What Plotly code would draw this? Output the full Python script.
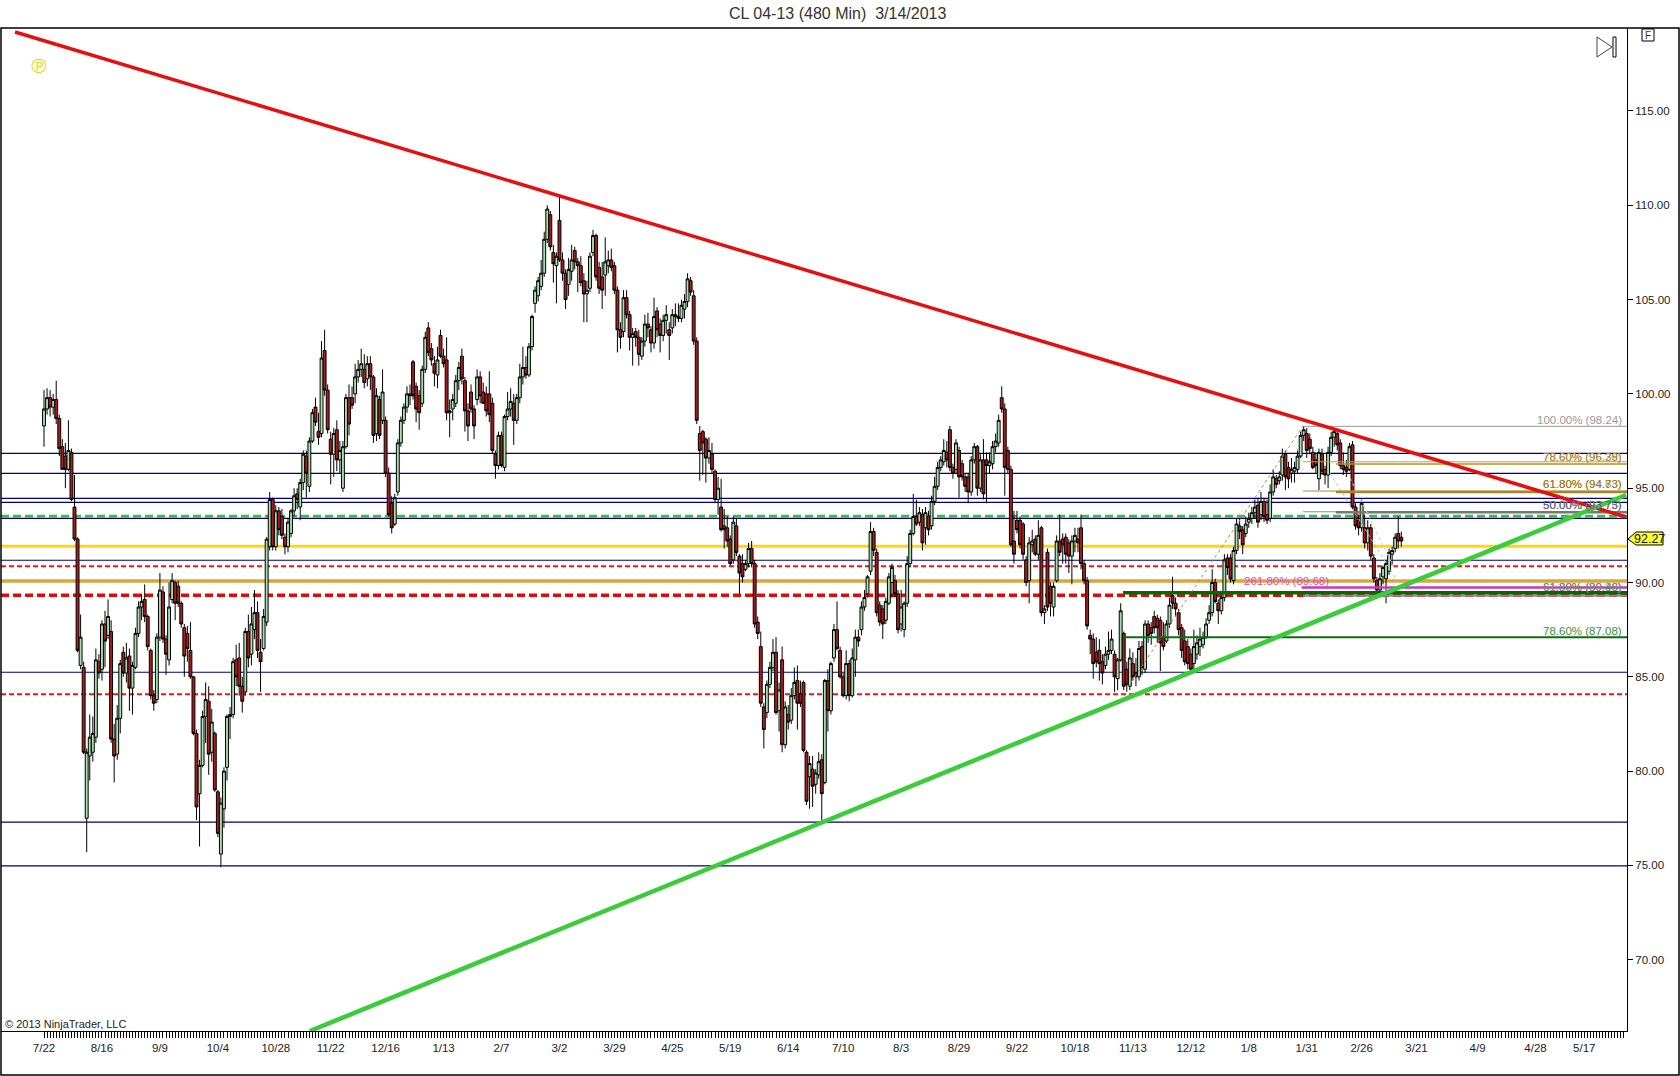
import numpy as np
import plotly.graph_objects as go

# ---------- candle values, bar by bar ----------
open_a = [98.3,99.2,99.8,99.3,99.7,98.7,97.2,96.7,96.0,96.9,94.0,92.3,85.6,85.5,77.5,80.8,81.0,81.8,85.8,85.4,87.8,87.2,87.4,81.7,80.9,82.8,86.3,85.2,86.1,84.4,85.5,87.3,88.7,89.1,88.2,86.4,84.0,83.8,87.1,89.5,87.0,85.9,89.1,90.0,89.8,88.9,87.6,87.3,86.4,85.0]
high_a = [100.2,100.3,100.2,100.0,100.7,98.9,97.6,97.4,98.6,97.1,95.7,92.4,88.3,85.8,81.2,83.0,82.9,86.5,86.2,88.0,88.5,89.1,88.0,82.5,83.5,85.9,86.6,86.8,86.5,85.8,87.6,89.0,89.4,89.9,88.3,86.5,84.3,87.3,90.5,89.8,87.2,90.0,90.5,90.1,90.1,89.0,87.8,87.7,87.9,85.0]
low_a = [97.2,98.9,98.8,98.9,98.4,96.7,96.0,95.0,95.9,94.3,92.2,86.3,85.4,80.9,75.7,79.5,80.5,81.5,84.9,84.8,85.5,87.0,81.5,79.4,80.6,82.0,85.0,84.7,83.2,83.0,85.4,87.1,88.0,87.9,86.4,83.8,83.2,83.6,86.9,86.8,85.1,85.6,88.9,88.0,88.7,87.6,85.0,85.8,84.9,81.9]
close_a = [99.2,99.8,99.3,99.7,98.7,97.1,96.0,96.0,97.0,94.4,92.3,86.4,87.1,81.0,81.0,81.8,82.0,85.9,85.2,87.8,86.9,88.2,81.7,80.8,82.8,85.7,85.2,86.0,84.4,85.6,87.3,88.7,89.0,88.2,86.6,84.0,83.6,87.1,89.6,87.0,86.2,88.7,90.1,88.9,88.9,87.8,86.1,86.5,85.0,82.0]

open_b = [82.0,78.8,80.3,82.9,83.7,81.0,82.0,78.9,75.6,78.0,80.2,82.9,83.0,85.9,86.0,84.5,84.2,87.4,86.2,87.5,88.4,86.3,86.5,87.9,91.9,94.4,91.9,93.8,93.5,92.4,91.9,92.6,93.8,94.7,94.0,95.3,96.7,95.1,97.5,99.3,98.0,97.9,102.3,100.2,97.6,96.8,98.1,96.5,95.0,97.2]
high_b = [82.2,80.6,83.2,84.7,84.5,83.3,82.1,79.0,78.6,80.2,83.0,83.4,86.0,86.7,86.8,85.0,87.6,88.3,88.7,89.6,89.0,87.0,88.6,92.4,94.8,94.5,94.1,94.0,93.9,92.6,93.4,93.9,95.0,95.0,95.5,97.0,97.0,97.7,99.2,99.8,99.0,102.8,103.4,100.5,98.0,98.2,98.6,97.5,97.5,100.0]
low_b = [77.4,76.0,80.2,81.5,79.8,80.5,78.9,76.5,74.9,77.0,79.5,81.7,82.8,84.5,84.0,83.1,84.0,85.5,85.6,87.0,86.0,84.2,86.4,87.7,91.7,91.7,91.7,92.5,92.3,91.5,91.6,92.4,93.5,93.9,93.3,94.9,94.5,94.8,97.4,98.3,97.3,97.7,99.9,97.9,95.2,95.6,95.9,95.8,94.8,97.1]
close_b = [78.1,80.3,82.9,83.8,80.9,82.6,79.0,76.7,78.3,80.0,82.9,83.0,85.8,85.0,84.5,83.7,87.4,86.0,87.8,88.4,86.4,85.8,88.2,92.3,94.4,91.9,93.8,92.8,92.5,91.9,93.2,93.8,94.6,94.4,95.3,96.8,95.8,97.5,99.0,98.5,97.7,101.9,100.2,98.1,96.8,97.9,96.5,97.0,97.2,99.8]

open_c = [99.8,99.8,100.0,100.9,101.3,101.3,100.8,101.6,100.9,97.9,99.7,98.6,98.6,95.8,94.2,93.1,94.8,97.4,98.6,99.3,100.0,101.7,100.4,99.9,99.5,101.3,103.5,102.4,101.6,101.0,103.1,102.0,101.8,99.1,99.2,99.5,100.7,102.0,100.7,99.1,100.1,99.2,99.7,100.9,100.1,100.0,100.0,99.5,96.8,96.2]
high_c = [100.5,100.4,101.6,101.8,102.4,102.1,102.0,102.0,101.0,100.3,99.9,101.3,98.8,96.1,94.6,94.7,97.6,98.8,99.5,100.4,100.5,101.8,100.6,100.2,101.5,103.3,103.8,102.7,102.0,102.5,103.4,102.4,103.0,99.7,100.0,101.0,101.7,102.4,100.9,99.5,100.5,99.4,101.3,101.2,100.6,100.4,101.2,99.8,97.0,98.0]
low_c = [97.8,99.2,99.5,100.6,100.9,100.3,100.4,100.2,97.4,97.5,97.6,98.4,95.6,93.5,92.6,93.0,94.6,97.2,98.4,99.0,99.4,99.7,98.5,98.1,99.3,101.1,102.0,101.5,100.4,100.3,101.9,101.4,98.6,97.7,98.6,99.3,100.2,100.5,98.0,97.5,99.0,97.6,99.4,99.5,99.5,98.8,98.5,96.8,95.5,96.0]
close_c = [98.4,99.4,100.9,101.3,101.6,100.6,101.6,100.9,97.8,99.9,97.8,100.1,95.8,93.6,92.9,94.5,97.4,98.6,99.3,100.0,99.9,99.9,99.2,99.0,101.3,103.0,102.2,101.8,101.1,101.8,102.0,101.6,99.0,99.0,99.7,100.7,101.4,100.8,99.1,98.3,99.2,98.3,100.9,99.9,99.5,99.1,98.9,97.0,96.2,97.8]

open_d = [97.8,96.1,98.8,99.2,99.5,98.6,99.8,100.9,101.4,101.0,102.5,104.8,105.2,105.7,106.4,108.2,109.5,107.5,106.8,109.2,107.1,106.4,105.8,106.5,107.6,107.0,106.8,106.0,105.3,105.6,107.5,108.4,106.7,106.2,106.3,106.8,107.1,106.8,105.5,103.4,103.3,105.1,104.2,103.0,103.3,103.0,102.0,102.8,103.7,103.4]
high_d = [98.0,98.9,100.1,100.3,100.0,100.0,101.6,102.5,102.0,102.7,104.2,105.7,106.2,107.1,108.6,110.0,109.7,107.9,107.5,110.5,107.5,106.6,107.2,107.9,107.8,107.2,107.3,106.4,106.0,107.5,108.7,108.5,107.0,107.0,108.3,107.6,107.7,107.0,105.7,103.8,105.5,105.5,104.4,103.5,103.5,103.4,103.0,104.2,104.3,103.6]
low_d = [96.1,95.9,98.6,98.8,97.3,98.4,99.5,100.5,100.8,100.9,102.3,104.3,104.9,105.5,106.2,108.0,107.6,105.9,104.8,107.0,106.0,104.5,105.2,106.0,106.6,105.4,105.7,103.8,103.8,105.4,107.3,106.0,105.3,104.5,105.2,106.4,106.5,105.3,102.2,102.4,103.0,104.0,102.3,101.5,102.5,101.5,101.8,102.5,103.0,102.2]
close_d = [96.2,98.8,99.2,99.6,98.6,99.8,100.9,101.4,101.0,102.5,104.1,105.5,106.0,106.4,108.2,109.8,107.8,106.9,107.3,107.1,106.4,105.0,106.6,107.1,107.0,106.8,105.9,105.3,105.5,107.3,108.4,106.2,105.6,105.5,107.0,107.1,106.7,105.5,103.4,103.0,105.1,104.2,103.0,103.2,103.0,102.1,102.8,103.7,103.5,102.7]

open_e = [102.7,104.4,103.7,103.1,103.9,103.4,103.5,104.2,104.1,104.0,104.5,104.9,106.0,105.2,102.8,97.9,98.0,97.6,96.6,96.8,95.9,94.4,94.0,93.0,92.9,92.3,91.2,93.0,91.4,91.0,90.7,91.0,91.8,91.0,87.9,86.6,83.4,83.1,84.6,85.5,86.3,83.2,85.9,81.4,83.0,82.7,84.0,84.8,84.1,84.7]
high_e = [105.1,104.6,104.0,104.2,104.7,103.8,104.5,104.8,104.8,105.0,105.3,106.4,106.2,105.5,103.0,98.3,98.1,97.7,97.7,97.4,96.0,95.6,95.5,93.9,93.5,92.5,93.5,93.4,91.5,91.5,91.2,92.1,92.2,91.2,88.2,87.4,83.6,84.8,85.8,87.0,87.1,84.7,86.6,83.7,83.5,84.4,85.5,85.6,84.8,84.8]
low_e = [102.4,103.0,102.2,102.8,103.2,101.8,103.2,103.6,103.8,103.8,104.0,104.6,105.2,102.6,98.4,95.4,95.7,95.3,96.3,95.8,94.2,93.6,92.7,91.8,91.9,90.9,91.0,91.4,89.4,90.0,90.6,90.8,90.8,87.6,87.0,83.4,81.2,82.8,84.4,85.3,83.0,82.1,81.0,81.2,82.2,82.5,83.8,82.2,83.4,81.0]
close_e = [104.1,103.4,103.1,103.9,104.2,103.1,104.2,104.1,104.0,104.7,104.9,106.1,105.4,102.8,98.6,97.0,97.4,96.6,97.0,96.0,94.4,95.0,92.8,92.8,92.2,91.0,93.2,91.6,90.5,90.3,91.0,91.8,91.0,87.8,87.3,83.6,82.2,84.6,85.5,86.3,83.1,84.3,81.4,83.4,82.6,84.0,84.7,83.6,83.6,81.1]

open_f = [81.0,79.7,80.1,79.3,79.8,80.6,79.4,84.8,83.2,86.0,87.5,86.4,85.0,84.0,85.7,84.0,85.9,87.1,87.5,88.7,89.4,90.6,92.7,91.6,88.8,88.6,88.0,88.9,90.0,90.1,89.4,87.8,87.5,88.9,91.0,92.6,93.5,93.2,93.6,92.9,93.5,93.0,94.3,95.1,96.1,96.4,96.9,98.1,96.1,96.0]
high_f = [81.1,80.8,80.8,80.1,81.0,80.9,84.9,85.4,85.8,87.8,89.0,86.6,85.2,86.4,85.9,86.5,87.5,87.5,89.0,89.6,90.4,93.2,92.9,91.8,89.0,88.8,89.2,90.5,91.0,90.4,89.6,89.6,89.0,91.4,92.8,94.7,94.4,94.0,93.9,94.0,93.8,94.6,95.6,96.4,96.7,97.6,97.5,98.3,96.3,97.6]
low_f = [78.2,78.0,78.1,78.8,79.6,77.3,79.3,82.1,83.0,85.8,86.4,84.9,83.9,83.8,83.7,83.9,85.0,86.6,87.2,88.5,89.2,90.4,91.4,88.2,87.7,87.0,87.8,88.8,89.2,89.2,87.3,87.4,87.1,88.7,90.8,92.5,93.0,93.0,91.7,92.0,92.5,92.8,94.1,94.9,95.9,96.2,96.1,95.9,95.5,95.8]
close_f = [78.4,80.4,79.2,79.9,80.5,78.8,84.8,83.2,85.7,87.5,86.5,85.0,84.0,85.7,84.0,86.0,87.1,86.9,88.7,89.2,90.3,92.7,91.7,88.4,87.9,87.8,89.0,90.3,90.8,89.4,87.5,88.7,88.9,91.0,92.6,93.5,93.1,93.7,92.1,93.7,92.8,94.3,95.1,96.1,96.5,97.0,96.5,96.1,95.8,97.4]

open_g = [97.0,96.3,95.6,95.6,94.8,96.5,97.2,95.0,96.5,96.5,96.2,96.3,97.2,97.4,99.8,99.2,97.0,96.0,92.2,93.3,93.3,93.1,91.2,90.1,92.0,92.3,91.5,92.9,88.4,91.6,89.8,88.7,90.1,92.2,92.3,92.4,92.1,91.4,92.2,92.3,92.9,91.0,90.1,87.2,87.0,86.3,86.4,85.8,85.6,86.2]
high_g = [97.2,96.5,95.8,95.8,96.7,97.4,97.3,96.8,97.6,96.9,96.9,97.5,97.9,98.9,100.4,99.5,97.2,96.2,93.8,93.8,93.5,93.2,91.4,92.4,92.8,92.5,93.3,93.0,88.8,91.8,90.0,90.0,92.5,93.6,92.6,92.6,92.3,92.5,92.9,92.9,93.6,91.2,90.3,87.5,87.3,87.1,87.0,86.2,86.6,87.4]
low_g = [94.5,95.4,94.8,94.2,94.6,96.3,94.6,94.8,94.4,94.2,95.8,96.0,96.9,97.2,99.0,94.6,95.8,91.9,91.0,92.6,91.8,91.2,89.8,88.9,91.6,91.4,91.2,88.2,87.8,88.5,88.2,88.2,90.0,91.4,91.0,91.0,90.5,89.9,91.6,91.6,90.7,89.9,87.5,86.2,84.9,85.5,84.8,84.6,85.4,85.9]
close_g = [95.6,95.6,95.1,94.8,96.5,97.2,95.0,96.5,94.7,96.2,96.4,97.2,97.5,98.6,99.2,96.1,96.0,92.0,91.5,92.8,92.0,91.5,90.0,92.1,92.2,91.5,92.5,88.4,88.6,88.7,88.9,89.8,92.2,91.6,92.0,91.5,91.4,92.2,92.5,92.1,91.0,90.1,87.7,87.0,85.7,85.8,85.7,85.2,86.2,86.4]

open_h = [86.4,86.2,84.9,85.9,87.3,85.4,84.5,85.7,85.2,85.0,86.6,85.4,87.8,87.6,88.2,88.1,88.0,87.1,86.9,87.8,89.3,88.9,88.4,87.6,86.9,86.6,86.2,85.7,86.2,86.6,86.7,87.1,88.0,88.4,90.0,88.9,88.5,89.2,91.3,91.3,90.1,91.7,93.0,92.8,92.6,93.2,93.4,93.7,94.1,93.6]
high_h = [87.5,86.4,86.0,88.9,87.4,85.8,86.5,86.3,86.0,86.9,86.9,88.0,88.0,87.9,88.5,88.3,88.2,87.9,88.0,89.2,90.3,89.2,88.6,87.8,87.5,87.0,86.5,87.5,87.2,87.6,87.4,88.1,88.8,90.7,90.2,89.1,89.5,91.5,91.5,91.5,91.9,93.4,93.4,93.0,93.5,93.7,94.0,94.4,94.5,94.8]
low_h = [86.2,84.2,84.3,85.8,84.3,84.2,84.3,84.8,84.5,84.8,85.1,85.2,86.8,86.7,87.3,86.8,85.3,86.4,86.8,87.6,88.6,88.2,87.2,86.0,85.6,85.4,85.2,85.4,85.9,86.1,86.5,87.0,87.8,88.2,88.9,87.8,88.3,89.0,90.4,90.0,89.9,91.5,92.3,91.5,92.4,92.9,93.1,93.4,92.9,93.3]
close_h = [87.0,85.0,85.9,88.5,84.5,84.6,86.0,85.0,85.0,86.5,85.5,87.8,87.2,87.3,87.6,87.6,86.8,86.6,87.8,88.8,88.9,88.6,87.5,86.4,85.8,85.7,85.4,86.6,86.8,87.0,87.1,87.8,88.4,90.0,89.0,88.5,89.2,91.2,90.8,90.2,91.7,93.1,92.7,92.0,93.1,93.4,93.7,94.0,93.2,94.3]

open_i = [94.3,93.6,93.4,94.8,95.5,95.4,95.7,96.8,96.1,95.8,95.9,96.0,96.7,97.8,97.9,97.6,96.9,96.5,95.5,96.8,96.0,95.7,96.9,97.7,97.9,97.4,96.2,96.1,96.0,97.3,94.0,93.3,92.9,92.9,92.1,92.9,91.3,90.1,89.6,90.3,90.2,90.6,91.5,91.8,92.6,92.4]
high_i = [94.5,94.4,95.2,96.0,95.7,95.9,97.1,97.0,96.4,96.6,96.4,97.0,98.0,98.3,98.2,97.9,97.2,96.9,97.1,97.1,96.2,97.2,98.0,98.2,98.1,97.6,96.9,96.5,97.4,97.5,94.2,93.6,94.4,93.6,93.3,93.1,91.5,90.3,90.5,90.9,91.2,91.8,91.9,92.6,93.5,92.7]
low_i = [93.2,93.1,93.2,94.6,95.0,95.2,95.4,94.9,95.0,95.3,95.3,95.8,96.6,97.5,96.6,96.8,96.0,95.8,94.9,95.7,95.2,95.0,96.7,97.2,97.0,96.0,95.7,95.6,95.9,93.9,92.8,92.5,92.7,91.8,91.7,91.2,90.0,89.4,89.3,89.9,88.9,90.4,90.9,91.6,91.8,91.9]
close_i = [93.5,93.3,94.8,95.6,95.2,95.6,96.7,95.6,95.5,96.0,96.1,96.7,97.8,98.1,97.0,97.1,96.1,96.2,96.9,95.9,95.7,96.9,97.7,98.0,97.3,96.2,96.0,95.9,97.2,94.0,93.0,92.9,94.2,92.1,92.9,91.4,90.2,89.6,90.2,90.8,91.0,91.6,91.7,92.4,92.2,92.2]

# ---------- axis labels ----------
x_tick_labels = ["7/22","8/16","9/9","10/4","10/28","11/22","12/16","1/13","2/7","3/2","3/29","4/25","5/19","6/14","7/10","8/3","8/29","9/22","10/18","11/13","12/12","1/8","1/31","2/26","3/21","4/9","4/28","5/17"]
x_tick_bars = [0,19,38,57,76,94,112,131,150,169,187,206,225,244,262,281,300,319,338,357,376,395,414,432,450,470,489,505]
y_ticks = [70,75,80,85,90,95,100,105,110,115]

# ---------- horizontal price levels ----------
blue_levels = [96.85,95.79,94.46,94.25,93.40,91.18,85.24,77.3,74.97]
green_dash_level = [93.51]
yellow_level = [91.92]
red_thin_levels = [90.86,84.07]
gold_level = [90.08]
red_thick_level = [89.32]

# ---------- trend lines: [bar, price] ----------
red_trend_bar = [-9.5,518.7]
red_trend_price = [119.19,93.47]
green_trend_bar = [87.2,518.7]
green_trend_price = [66.22,94.64]

# ---------- Fibonacci levels: start bar, price, colour, width ----------
fib_start = [412.8,412.8,423.6,412.8,423.6,412.8,423.6,412.3,412.8,353.8,353.8]
fib_price = [98.28,96.40,96.28,94.85,94.80,93.75,93.72,89.73,89.30,89.46,87.10]
fib_color = ["#999999","#C9A227","#B8912A","#B08A30","#A8842C","#888888","#777777","#CC33CC","#8888AA","#006A00","#0A6E0A"]
fib_width = [1,1,1.5,1,2.5,1,2.5,2.5,2,3.5,2]

fib_text = ["100.00% (98.24)","78.60% (96.28)","78.60% (96.39)","61.80% (94.83)","61.80% (94.73)","50.00% (93.75)","50.00% (93.73)","78.60% (87.08)","61.80% (89.46)","61.80% (89.38)"]
fib_text_price = [98.60,96.68,96.68,95.2,95.2,94.1,94.1,87.45,89.78,89.78]
fib_text_color = ["#999999","#C8A040","#A88A3A","#B8923A","#9A7F2A","#7777AA","#666666","#3E8E3E","#3E8E3E","#888888"]

fib_link_bar = [[355.4,412.8],[421.6,445.6],[428.2,443.0]]
fib_link_price = [[84.46,98.3],[95.8,89.6],[95.54,90.66]]
fib_link_color = ["#A89050","#BBBBBB","#CCCCCC"]

opens = open_a+open_b+open_c+open_d+open_e+open_f+open_g+open_h+open_i
highs = high_a+high_b+high_c+high_d+high_e+high_f+high_g+high_h+high_i
lows = low_a+low_b+low_c+low_d+low_e+low_f+low_g+low_h+low_i
closes = close_a+close_b+close_c+close_d+close_e+close_f+close_g+close_h+close_i
bars = np.arange(len(opens))

L, R, T, B = 1, 1627, 28, 1031
def px(x): return (x - L) / (R - L)
def py(y): return (B - y) / (B - T)

fig = go.Figure(go.Candlestick(
    x=bars, open=opens, high=highs, low=lows, close=closes,
    increasing=dict(fillcolor="#A9DFAE", line=dict(color="#000000", width=1)),
    decreasing=dict(fillcolor="#A81C1C", line=dict(color="#000000", width=1)),
    whiskerwidth=0, showlegend=False, hoverinfo="skip"))

shapes = []
def hl(level, color, width, dash="solid", layer="below"):
    shapes.append(dict(type="line", xref="paper", yref="y", x0=0, x1=1, y0=level, y1=level,
                       layer=layer, line=dict(color=color, width=width, dash=dash)))
for v in blue_levels: hl(v, "#00007A", 1.2)
for v in green_dash_level: hl(v, "#3DBB4A", 3, "8px,4px")
for v in yellow_level: hl(v, "#FFD515", 3)
for v in red_thin_levels: hl(v, "#E81818", 2, "5px,3px")
for v in gold_level: hl(v, "#D9A63C", 3.5)
for v in red_thick_level: hl(v, "#E00A0A", 3.5, "8px,4px")

for s, p, c, w in zip(fib_start, fib_price, fib_color, fib_width):
    shapes.append(dict(type="line", xref="x", yref="y", x0=s, x1=519, y0=p, y1=p,
                       layer="above", line=dict(color=c, width=w)))
for bb, pp, c in zip(fib_link_bar, fib_link_price, fib_link_color):
    shapes.append(dict(type="line", xref="x", yref="y", x0=bb[0], x1=bb[1], y0=pp[0], y1=pp[1],
                       layer="above", line=dict(color=c, width=1, dash="dot")))
shapes.append(dict(type="line", xref="x", yref="y", x0=red_trend_bar[0], x1=red_trend_bar[1],
                   y0=red_trend_price[0], y1=red_trend_price[1], layer="above",
                   line=dict(color="#E60F0F", width=3.5)))
shapes.append(dict(type="line", xref="x", yref="y", x0=green_trend_bar[0], x1=green_trend_bar[1],
                   y0=green_trend_price[0], y1=green_trend_price[1], layer="above",
                   line=dict(color="#3CCB3C", width=4.5)))

def pbox(x0, y0, x1, y1, line="#000000", fill="rgba(0,0,0,0)", w=1):
    shapes.append(dict(type="rect", xref="paper", yref="paper", x0=px(x0), x1=px(x1), y0=py(y0), y1=py(y1),
                       layer="above", line=dict(color=line, width=w), fillcolor=fill))
def ppath(pts, line="#000000", fill="rgba(0,0,0,0)", w=1):
    d = "M " + " L ".join(f"{px(a):.5f} {py(b):.5f}" for a, b in pts) + " Z"
    shapes.append(dict(type="path", xref="paper", yref="paper", path=d, layer="above",
                       line=dict(color=line, width=w), fillcolor=fill))

pbox(1, 28, 1679, 1075, w=1.5)                     # outer frame
pbox(1642, 29, 1654, 41)                           # F box
ppath([(1597, 37), (1612, 47), (1597, 57)], line="#444444")
pbox(1613, 37, 1616, 57, fill="#FFFFFF")
ppath([(1628, 539), (1636, 532), (1663, 532), (1663, 545), (1636, 545)], fill="#FFFF33")

ann = []
FONT = "Liberation Sans"
def text(x, y, s, size=12, color="#222222", anchor="center", family=FONT):
    ann.append(dict(xref="paper", yref="paper", x=px(x), y=py(y), text=s, showarrow=False,
                    xanchor=anchor, yanchor="middle", font=dict(family=family, size=size, color=color)))
text(837, 13, "CL 04-13 (480 Min)\u00a0\u00a03/14/2013", 16, "#333333")
text(3, 1024, "\u00a9 2013 NinjaTrader, LLC", 11, "#222222", "left")
text(39, 66, "\u2117", 20, "#E8D818", family="DejaVu Sans")
text(1648, 35, "F", 10, "#333333")
text(1649, 539, "92.27", 12.5, "#111111")
text(1286, 581, "261.80% (89.68)", 11.5, "#E24CC4")
for s, p, c in zip(fib_text, fib_text_price, fib_text_color):
    ann.append(dict(xref="paper", yref="y", x=px(1624), y=p, text=s, showarrow=False, xanchor="right",
                    yanchor="middle", font=dict(family=FONT, size=11.5, color=c)))

fig.update_layout(
    width=1680, height=1076, margin=dict(l=L, r=1680 - R, t=T, b=1076 - B, autoexpand=False),
    paper_bgcolor="white", plot_bgcolor="white", showlegend=False,
    boxgap=0.05, boxgroupgap=0,
    shapes=shapes, annotations=ann,
    font=dict(family=FONT, size=11.5, color="#222222"),
    xaxis=dict(range=[-14.1, 519], rangeslider=dict(visible=False), showgrid=False, zeroline=False,
               showline=True, linecolor="#000000", linewidth=1, ticks="outside", ticklen=6,
               tickcolor="#000000", tickvals=x_tick_bars, ticktext=x_tick_labels,
               tickfont=dict(family=FONT, size=11.5, color="#222222"),
               minor=dict(tickmode="array", tickvals=list(range(0, 519)), ticks="outside", ticklen=6,
                          tickcolor="#000000", tickwidth=1, showgrid=False)),
    yaxis=dict(range=[66.22, 119.4], side="right", showgrid=False, zeroline=False, showline=True,
               linecolor="#000000", linewidth=1, ticks="outside", ticklen=5, tickcolor="#000000",
               tickvals=y_ticks, tickformat=".2f", tickfont=dict(family=FONT, size=11.5, color="#222222")))

fig.write_html("out.html", config=dict(displayModeBar=False),
               post_script="document.body.style.margin='0';document.documentElement.style.overflow='hidden';")
